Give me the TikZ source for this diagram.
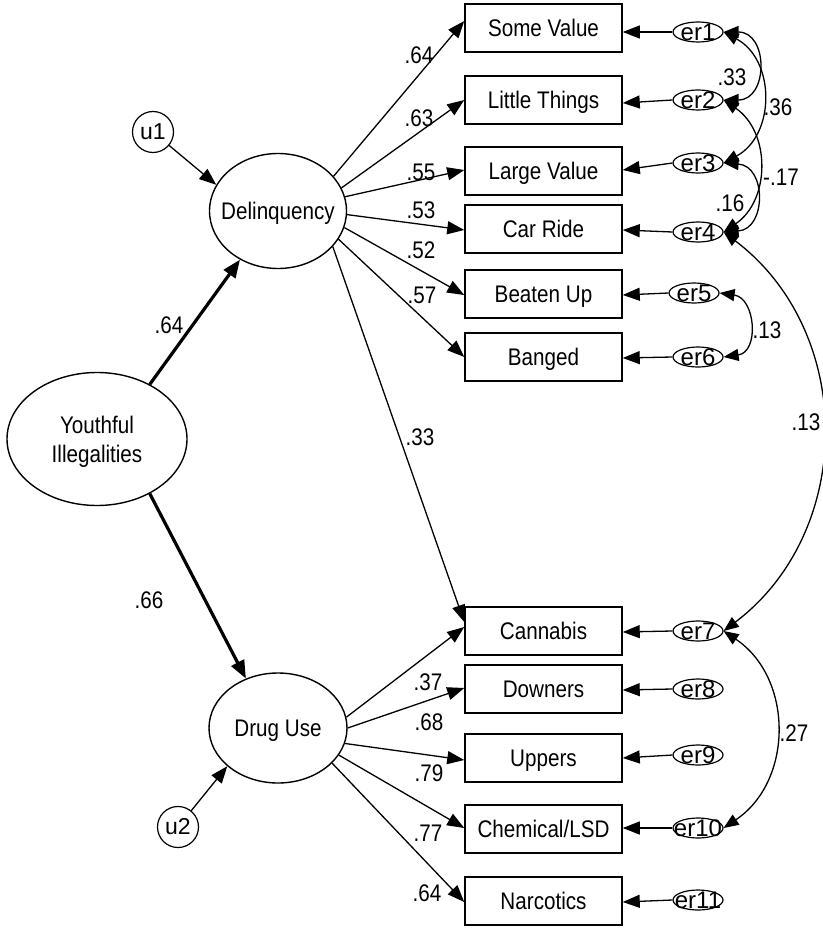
\documentclass[tikz,border=0pt]{standalone}
\usepackage{fontspec}
\setmainfont{Liberation Sans}[FakeStretch=0.86]
\newfontfamily\widefont{Liberation Sans}
\usetikzlibrary{arrows.meta,shapes.geometric}
\begin{document}
\begin{tikzpicture}[x=1pt,y=-1pt,
  every node/.style={font=\fontsize{24}{29}\selectfont},
  obs/.style={draw, line width=1.5pt, rectangle, minimum width=157pt, minimum height=48pt, inner sep=0pt, text depth=0pt},
  lat/.style={draw, line width=1.4pt, ellipse, inner sep=0pt},
  errv/.style={draw, line width=1.2pt, ellipse, minimum width=50pt, minimum height=20pt, inner sep=0pt},
  errlbl/.style={font=\widefont\fontsize{24}{28}\selectfont, inner sep=0pt, text depth=0pt},
  dist/.style={draw, line width=1.2pt, circle, minimum size=41pt, inner sep=0pt, font=\widefont\fontsize{23}{27}\selectfont},
  arr/.style={line width=1.3pt, -{Triangle[length=17pt,width=13pt]}},
  thk/.style={line width=3.2pt, -{Triangle[length=18pt,width=14pt]}},
  cov/.style={line width=1.3pt, {Triangle[length=15pt,width=12pt]}-{Triangle[length=15pt,width=12pt]}},
  lbl/.style={inner sep=0pt, text depth=0pt}
]
\useasboundingbox (0,0) rectangle (822,928);

% latent variables
\node[lat, minimum width=180pt, minimum height=133pt,
  label={[align=center, text depth=0pt]center:Youthful\\Illegalities}] (you) at (97,439) {};
\node[lat, minimum width=137pt, minimum height=115pt,
  label={[text depth=0pt]center:Delinquency}] (del) at (278,211) {};
\node[lat, minimum width=138pt, minimum height=110pt,
  label={[text depth=0pt]center:Drug Use}] (du) at (278,728) {};
\node[dist] (u1) at (153,132) {u1};
\node[dist] (u2) at (178,827) {u2};

% observed variables
\node[obs] (sv) at (543.5,28) {Some Value};
\node[obs] (lt) at (543.5,100) {Little Things};
\node[obs] (lv) at (543.5,171) {Large Value};
\node[obs] (cr) at (543.5,229) {Car Ride};
\node[obs] (bu) at (543.5,294) {Beaten Up};
\node[obs] (bg) at (543.5,357) {Banged};
\node[obs] (ca) at (543.5,631) {Cannabis};
\node[obs] (dw) at (543.5,689) {Downers};
\node[obs] (up) at (543.5,758) {Uppers};
\node[obs] (ch) at (543.5,829) {Chemical/LSD};
\node[obs] (na) at (543.5,901) {Narcotics};

% error terms
\node[errv, label={[errlbl]center:er1}] (er1) at (698,32) {};
\node[errv, label={[errlbl]center:er2}] (er2) at (698,100) {};
\node[errv, label={[errlbl]center:er3}] (er3) at (698,163) {};
\node[errv, label={[errlbl]center:er4}] (er4) at (698,232) {};
\node[errv, label={[errlbl]center:er5}] (er5) at (694,293) {};
\node[errv, label={[errlbl]center:er6}] (er6) at (698,357) {};
\node[errv, label={[errlbl]center:er7}] (er7) at (698,631) {};
\node[errv, label={[errlbl]center:er8}] (er8) at (698,689) {};
\node[errv, label={[errlbl]center:er9}] (er9) at (698,755) {};
\node[errv, label={[errlbl]center:er10}] (er10) at (698,828) {};
\node[errv, label={[errlbl]center:er11}] (er11) at (698,900) {};

% structural paths
\draw[thk] (you.46) -- (del.-128);
\draw[thk] (you.-46) -- (du.123);
\draw[arr] (u1) -- (del.157);
\draw[arr] (u2) -- (du.-143);

% loadings: Delinquency
\draw[arr] (del.32) -- ([yshift=7pt]sv.west);
\draw[arr] (del.20) -- (lt.west);
\draw[arr] (del.12) -- ([yshift=1pt]lv.west);
\draw[arr] (del.-3) -- ([yshift=-1pt]cr.west);
\draw[arr] (del.-14) -- ([yshift=-1pt]bu.west);
\draw[arr] (del.-25) -- (bg.west);
\draw[arr] (del.-33) -- ([yshift=9pt]ca.west);

% loadings: Drug Use
\draw[arr] (du.9) -- ([yshift=4pt]ca.west);
\draw[arr] (du.0) -- ([yshift=1pt]dw.west);
\draw[arr] (du.-13) -- ([yshift=-2pt]up.west);
\draw[arr] (du.-24) -- ([yshift=1pt]ch.west);
\draw[arr] (du.-33) -- ([yshift=-1pt]na.west);

% errors to indicators
\draw[arr] (er1.west) -- ([yshift=-4pt]sv.east);
\draw[arr] (er2.west) -- ([yshift=-3pt]lt.east);
\draw[arr] (er3.west) -- ([yshift=1pt]lv.east);
\draw[arr] (er4.west) -- ([yshift=-1pt]cr.east);
\draw[arr] (er5.west) -- ([yshift=-1pt]bu.east);
\draw[arr] (er6.west) -- ([yshift=-1pt]bg.east);
\draw[arr] (er7.west) -- ([yshift=-1pt]ca.east);
\draw[arr] (er8.west) -- ([yshift=-1pt]dw.east);
\draw[arr] (er9.west) -- (up.east);
\draw[arr] (er10.west) -- ([yshift=1pt]ch.east);
\draw[arr] (er11.west) -- ([yshift=-1pt]na.east);

% covariances
\draw[cov] (er1.east) .. controls +(45,0) and +(45,0) .. (er2.east);
\draw[cov] (er1.east) .. controls +(52,28) and +(52,-28) .. (er3.east);
\draw[cov] (er2.east) .. controls +(47,32) and +(47,-32) .. (er4.east);
\draw[cov] (er3.east) .. controls +(43,3) and +(43,-3) .. (er4.east);
\draw[cov] (er5.east) .. controls +(36,5) and +(36,-5) .. (er6.east);
\draw[cov] (er4.east) .. controls +(132,100) and +(132,-100) .. (er7.east);
\draw[cov] (er7.east) .. controls +(70,47) and +(70,-47) .. (er10.east);

% coefficient labels
\node[lbl] (c1) at (169,325) {.64};
\node[lbl] (c2) at (149,600) {.66};
\node[lbl] (d1) at (419,55) {.64};
\node[lbl] (d2) at (419,118) {.63};
\node[lbl] (d3) at (421,172) {.55};
\node[lbl] (d4) at (421,210) {.53};
\node[lbl] (d5) at (421,250) {.52};
\node[lbl] (d6) at (422,295) {.57};
\node[lbl] (d7) at (420,437) {.33};
\node[lbl] (g1) at (428,682) {.37};
\node[lbl] (g2) at (429,722) {.68};
\node[lbl] (g3) at (429,773) {.79};
\node[lbl] (g4) at (428,833) {.77};
\node[lbl] (g5) at (427,893) {.64};
\node[lbl] (k1) at (732,77) {.33};
\node[lbl] (k2) at (778,107) {.36};
\node[lbl] (k3) at (781,177) {-.17};
\node[lbl] (k4) at (730,203) {.16};
\node[lbl] (k5) at (767,330) {.13};
\node[lbl] (k6) at (806,422) {.13};
\node[lbl] (k7) at (794,733) {.27};
\end{tikzpicture}
\end{document}
